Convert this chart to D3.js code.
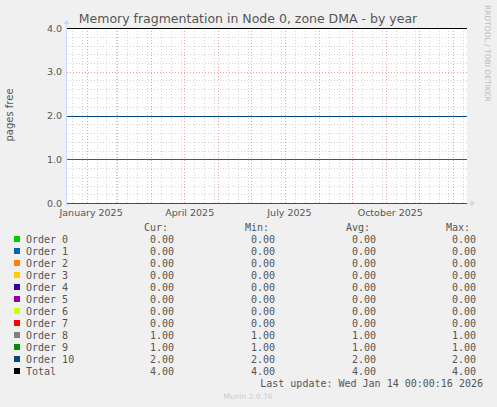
<!DOCTYPE html>
<html><head><meta charset="utf-8">
<script src="https://cdn.jsdelivr.net/npm/d3@7"></script>
<style>body{margin:0;background:#f0f0f0}svg{display:block}</style>
</head><body><svg id="c" width="497" height="407"></svg>
<script>
const seriesNames=["Order 0","Order 1","Order 2","Order 3","Order 4","Order 5","Order 6","Order 7","Order 8","Order 9","Order 10","Total"];
const seriesColors=["#00CC00","#0066B3","#FF8000","#FFCC00","#330099","#990099","#CCFF00","#FF0000","#808080","#008F00","#00487D","#000000"];
const curVals=[0,0,0,0,0,0,0,0,1,1,2,4];
const minVals=[0,0,0,0,0,0,0,0,1,1,2,4];
const avgVals=[0,0,0,0,0,0,0,0,1,1,2,4];
const maxVals=[0,0,0,0,0,0,0,0,1,1,2,4];
const yTicks=[0,1,2,3,4];
const xLabels=["January 2025","April 2025","July 2025","October 2025"];
const xLabelDates=[new Date(2025,0,1),new Date(2025,3,1),new Date(2025,6,1),new Date(2025,9,1)];
const tStart=new Date(2025,0,14), tEnd=new Date(2026,0,14);

const svg=d3.select("#c");
const L=67,R=467,T=28,B=203;
const x=d3.scaleTime().domain([tStart,tEnd]).range([L,R]);
const y=d3.scaleLinear().domain([0,4]).range([B,T]);
svg.append("rect").attr("x",L).attr("y",T).attr("width",R-L).attr("height",B-T).attr("fill","#fff");
const g=svg.append("g").attr("shape-rendering","crispEdges");
d3.timeDay.every(9).range(tStart,tEnd).forEach(d=>{g.append("line").attr("x1",Math.round(x(d))+.5).attr("x2",Math.round(x(d))+.5).attr("y1",T).attr("y2",B).attr("stroke","#d4d4d4").attr("stroke-dasharray","1,2");});
d3.range(0,4.01,0.2).forEach(v=>{g.append("line").attr("x1",L).attr("x2",R).attr("y1",Math.round(y(v))+.5).attr("y2",Math.round(y(v))+.5).attr("stroke","#d4d4d4").attr("stroke-dasharray","1,2");});
d3.timeMonth.range(tStart,tEnd).forEach(d=>{g.append("line").attr("x1",Math.round(x(d))+.5).attr("x2",Math.round(x(d))+.5).attr("y1",T).attr("y2",B).attr("stroke","#e8a0a0").attr("stroke-dasharray","1,2");});
yTicks.forEach(v=>{g.append("line").attr("x1",L).attr("x2",R+2).attr("y1",Math.round(y(v))+.5).attr("y2",Math.round(y(v))+.5).attr("stroke","#e8a0a0").attr("stroke-dasharray","1,2");});
g.append("line").attr("x1",L).attr("x2",R+4).attr("y1",B+.5).attr("y2",B+.5).attr("stroke","#ccd6ff");
g.append("line").attr("x1",L-.5).attr("x2",L-.5).attr("y1",B+3).attr("y2",T-5).attr("stroke","#ccd6ff");
svg.append("path").attr("d",`M${R+4},${B-3}L${R+8},${B+.5}L${R+4},${B+4}Z`).attr("fill","#ccd6ff");
svg.append("path").attr("d",`M${L-4},${T-4}L${L-.5},${T-8}L${L+3},${T-4}Z`).attr("fill","#ccd6ff");
seriesNames.forEach((n,i)=>{
  const yy=Math.round(y(curVals[i]))+.5;
  g.append("line").attr("x1",L).attr("x2",R).attr("y1",yy).attr("y2",yy).attr("stroke",seriesColors[i]).attr("stroke-width",1);
});
yTicks.forEach(v=>svg.append("text").attr("x",L-5).attr("y",y(v)+3.5).attr("text-anchor","end").attr("font-family","DejaVu Sans").attr("font-size",9.5).attr("fill","#555").text(v.toFixed(1)));
xLabels.forEach((s,i)=>{const d=d3.timeDay.offset(xLabelDates[i],35);
  svg.append("text").attr("x",x(d)).attr("y",B+13).attr("text-anchor","middle").attr("font-family","DejaVu Sans").attr("font-size",9.5).attr("fill","#555").text(s);});
svg.append("text").attr("x",248).attr("y",23).attr("text-anchor","middle").attr("font-family","DejaVu Sans").attr("font-size",12.5).attr("fill","#555").text("Memory fragmentation in Node 0, zone DMA - by year");
svg.append("text").attr("transform","translate(13,115) rotate(-90)").attr("text-anchor","middle").attr("font-family","DejaVu Sans").attr("font-size",10).attr("fill","#555").text("pages free");
svg.append("text").attr("transform","translate(485,5) rotate(90)").attr("font-family","DejaVu Sans").attr("font-size",7.5).attr("fill","#bbb").text("RRDTOOL / TOBI OETIKER");
const mono={"font-family":"DejaVu Sans Mono","font-size":10,"fill":"#555"};
function t(xp,yp,s,anchor){const e=svg.append("text").attr("x",xp).attr("y",yp).attr("text-anchor",anchor||"start").text(s);for(const k in mono)e.attr(k,mono[k]);return e;}
const cols=[174,275,376,476];
["Cur:","Min:","Avg:","Max:"].forEach((h,i)=>t(cols[i]-6,231,h,"end"));
seriesNames.forEach((n,i)=>{
  const yy=243+i*12;
  svg.append("rect").attr("x",14).attr("y",yy-7).attr("width",6).attr("height",6).attr("fill",seriesColors[i]);
  t(26,yy,n);
  [curVals,minVals,avgVals,maxVals].forEach((a,j)=>t(cols[j],yy,a[i].toFixed(2),"end"));
});
t(483,387,"Last update: Wed Jan 14 00:00:16 2026","end");
svg.append("text").attr("x",248).attr("y",399).attr("text-anchor","middle").attr("font-family","DejaVu Sans").attr("font-size",7.5).attr("fill","#ccc").text("Munin 2.0.76");
</script></body></html>
